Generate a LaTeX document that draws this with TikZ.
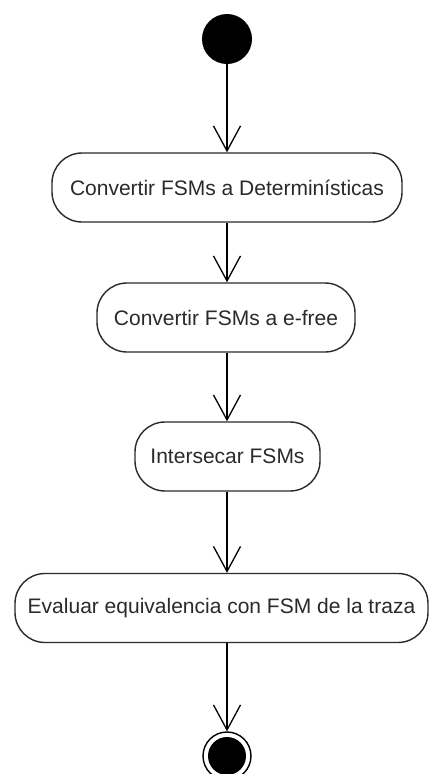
\documentclass[tikz,border=0pt]{standalone}
\usepackage{fontspec}
\setmainfont{Liberation Sans}
\usetikzlibrary{arrows.meta}

\definecolor{inkgray}{HTML}{2A2A2A}

\tikzset{
  activity/.style={draw=inkgray, line width=1.4pt, rounded corners=30pt,
    minimum height=69pt, inner sep=0pt, text=inkgray,
    font=\fontsize{21pt}{25pt}\selectfont},
  flow/.style={draw=black, line width=1.3pt,
    -{Straight Barb[length=25pt, width=27pt, line width=1.3pt]}},
  initial/.style={circle, fill=black, minimum size=50pt, inner sep=0pt},
  final/.style={circle, draw=black, line width=1.4pt, minimum size=48pt,
    inner sep=0pt,
    path picture={\fill[black] (path picture bounding box.center) circle (19pt);}}
}

\begin{document}
\begin{tikzpicture}[x=1pt, y=-1pt]
  \useasboundingbox[fill=white] (0,0) rectangle (430,774);

  \node[initial] (start) at (227,39) {};

  \node[activity, minimum width=350pt] (a1) at (227,187.5)
    {Convertir FSMs a Determinísticas};
  \node[activity, minimum width=258pt] (a2) at (226,317.5)
    {Convertir FSMs a e-free};
  \node[activity, minimum width=185pt] (a3) at (227.5,456.5)
    {Intersecar FSMs};
  \node[activity, minimum width=413pt] (a4) at (221.5,608)
    {Evaluar equivalencia con FSM de la traza};

  \node[final] (end) at (227,756) {};

  \draw[flow] (start) -- (a1.north -| start);
  \draw[flow] (a1.south -| start) -- (a2.north -| start);
  \draw[flow] (a2.south -| start) -- (a3.north -| start);
  \draw[flow] (a3.south -| start) -- (a4.north -| start);
  \draw[flow] (a4.south -| start) -- (end);
\end{tikzpicture}
\end{document}
